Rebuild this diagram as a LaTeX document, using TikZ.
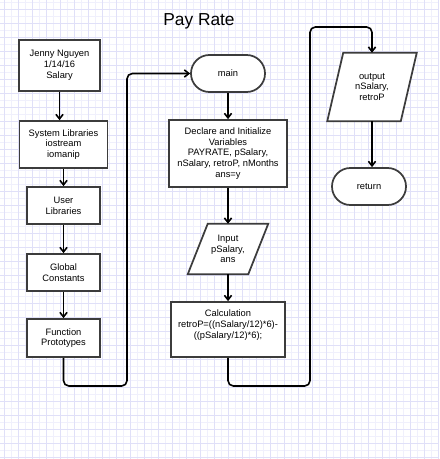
\documentclass[tikz,border=0pt]{standalone}
\usepackage{fontspec}
\setmainfont{Liberation Sans}
\usetikzlibrary{arrows.meta}
\definecolor{gridmajor}{RGB}{224,224,248}
\definecolor{gridminor}{RGB}{240,240,252}
\definecolor{edge}{RGB}{60,60,60}
\begin{document}
\begin{tikzpicture}[x=0.75pt,y=-0.75pt,
  box/.style={draw=edge,line width=1.3pt,fill=white,align=center,inner sep=0pt,
    font=\fontsize{7}{8.1}\selectfont},
  term/.style={box,rounded corners=13.8pt,minimum width=55.5pt,minimum height=27.75pt},
  io/.style={align=center,inner sep=0pt,font=\fontsize{7}{8.1}\selectfont},
  flow/.style={line width=1.2pt,rounded corners=4pt,-{Straight Barb[length=3.4pt,width=5.4pt]}}]
\useasboundingbox (0,0) rectangle (439,459);

\foreach \i in {0,...,31} \draw[gridminor,line width=0.5pt] (11.3+14*\i,0) -- (11.3+14*\i,459);
\foreach \i in {0,...,32} \draw[gridminor,line width=0.5pt] (0,2.3+14*\i) -- (439,2.3+14*\i);
\foreach \i in {0,...,31} \draw[gridmajor,line width=0.6pt] (4.3+14*\i,0) -- (4.3+14*\i,459);
\foreach \i in {0,...,32} \draw[gridmajor,line width=0.6pt] (0,9.3+14*\i) -- (439,9.3+14*\i);

\node[font=\fontsize{13}{15}\selectfont] (title) at (199,21) {Pay Rate};

\node[box,minimum width=60.75pt,minimum height=38.25pt] (head) at (59.5,65.5) {Jenny Nguyen\\1/14/16\\Salary};
\node[box,minimum width=66pt,minimum height=35.25pt] (syslib) at (63.5,144.5) {System Libraries\\iostream\\iomanip};
\node[box,minimum width=54.75pt,minimum height=27.75pt] (userlib) at (63.5,205.5) {User\\Libraries};
\node[box,minimum width=54.75pt,minimum height=27.75pt] (global) at (63.5,272.5) {Global\\Constants};
\node[box,minimum width=54.75pt,minimum height=28.5pt] (proto) at (63.5,338) {Function\\Prototypes};

\node[term] (main) at (228,73.5) {main};
\node[box,minimum width=88.5pt,minimum height=50.25pt] (declare) at (228,153.5) {Declare and Initialize\\Variables\\PAYRATE, pSalary,\\nSalary, retroP, nMonths\\ans=y};
\node[io,minimum width=45pt,minimum height=37.5pt] (input) at (228,249) {};
\draw[draw=edge,line width=1.3pt,fill=white] ([xshift=-7.5pt]input.south west) -- ([xshift=7.5pt]input.north west)
  -- ([xshift=7.5pt]input.north east) -- ([xshift=-7.5pt]input.south east) -- cycle;
\node[io] at (input) {Input\\pSalary,\\ans};
\node[box,minimum width=85.5pt,minimum height=41.25pt] (calc) at (228,329.5) {Calculation\\retroP=((nSalary/12)*6)-\\((pSalary/12)*6);\\~};

\node[io,minimum width=54.75pt,minimum height=51pt] (output) at (372,87) {};
\draw[draw=edge,line width=1.3pt,fill=white] ([xshift=-6pt]output.south west) -- ([xshift=6pt]output.north west)
  -- ([xshift=6pt]output.north east) -- ([xshift=-6pt]output.south east) -- cycle;
\node[io] at (output) {output\\nSalary,\\retroP};
\node[term] (ret) at (369,186.5) {return};

\coordinate (low1) at (127,386);
\coordinate (up1) at (127,73.5);
\coordinate (low2) at (310,386);
\coordinate (up2) at (310,27);

\draw[flow] (head.south) -- (head.south |- syslib.north);
\draw[flow] (syslib) -- (userlib);
\draw[flow] (userlib) -- (global);
\draw[flow] (global) -- (proto);
\draw[flow] (proto.south) |- (low1) -- (up1) -- (main.west);

\draw[flow] (main) -- (declare);
\draw[flow] (declare) -- (input.north);
\draw[flow] (input.south) -- (calc);
\draw[flow] (calc.south) |- (low2) -- (up2) -| (output.north);
\draw[flow] (output.south) -- (output.south |- ret.north);

\end{tikzpicture}
\end{document}
